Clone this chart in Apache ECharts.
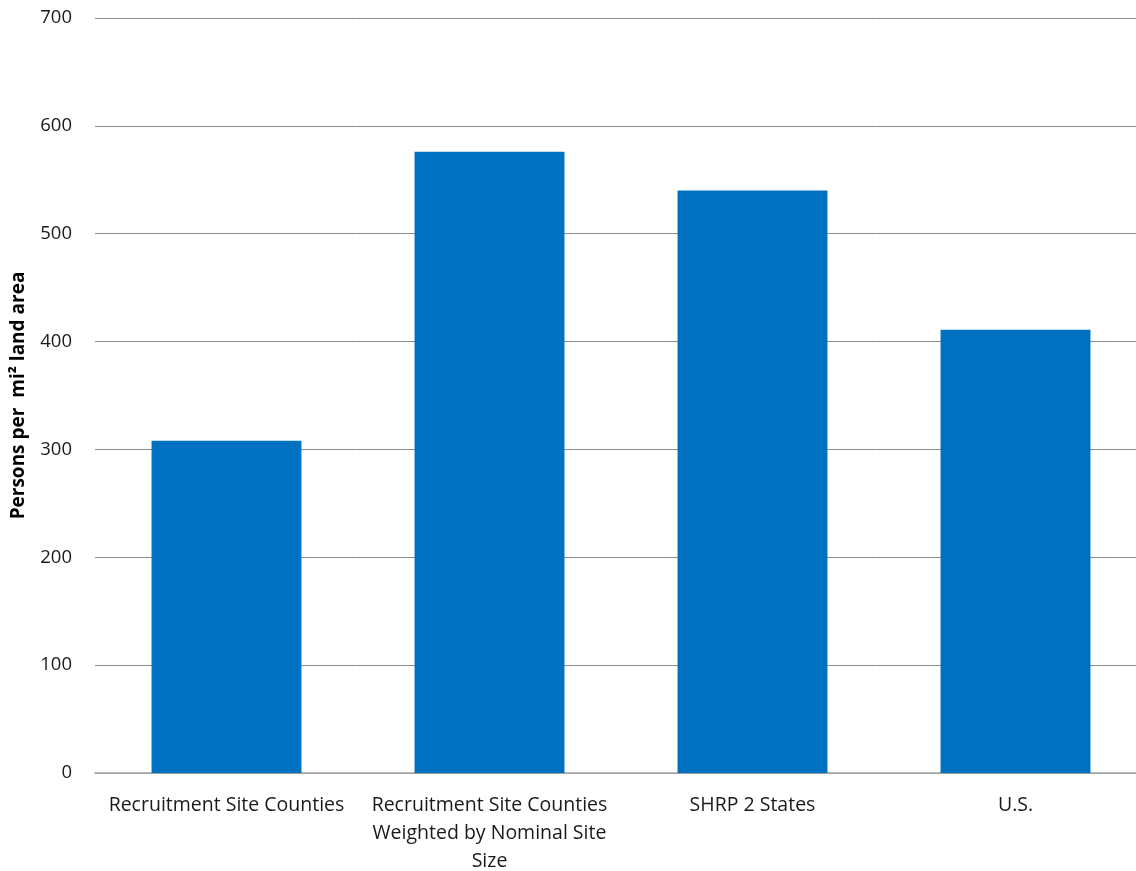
<!DOCTYPE html>
<html>
<head>
<meta charset="utf-8">
<script src="https://cdn.jsdelivr.net/npm/echarts@6/dist/echarts.min.js"></script>
<style>
  html, body { margin: 0; padding: 0; background: #fff; overflow: hidden; }
  #chart { width: 1136px; height: 871px; }
</style>
</head>
<body>
<div id="chart"></div>
<script>
// Population density by area grouping
const categories = [
  'Recruitment Site Counties',
  'Recruitment Site Counties\nWeighted by Nominal Site\nSize',
  'SHRP 2 States',
  'U.S.'
];
const density = [308, 576, 540, 411];
const yTicks = { min: 0, max: 700, interval: 100 };

const chart = echarts.init(document.getElementById('chart'));
chart.setOption({
  animation: false,
  grid: {
    left: 95, right: -11, top: 18, bottom: 98,
    containLabel: false,
    outerBoundsMode: 'none'
  },
  xAxis: {
    type: 'category',
    data: categories,
    axisLine: { lineStyle: { color: '#a6a6a6', width: 1.5 } },
    axisTick: { show: false },
    axisLabel: {
      interval: 0,
      margin: 18,
      color: '#1a1a1a',
      fontFamily: 'Open Sans',
      fontSize: 19.5,
      lineHeight: 28
    }
  },
  yAxis: {
    type: 'value',
    min: yTicks.min, max: yTicks.max, interval: yTicks.interval,
    name: 'Persons per  mi² land area',
    nameLocation: 'middle',
    nameGap: 67,
    nameTextStyle: { fontFamily: 'Open Sans', fontWeight: 'bold', fontSize: 19, color: '#000' },
    axisLine: { show: false },
    axisTick: { show: false },
    axisLabel: { color: '#1a1a1a', fontFamily: 'Open Sans', fontSize: 18.5, margin: 23 },
    splitLine: { lineStyle: { color: '#8c8c8c', width: 1 } }
  },
  series: [{
    type: 'bar',
    data: density,
    barWidth: '57%',
    itemStyle: { color: '#0070C0' }
  }]
});
</script>
</body>
</html>
